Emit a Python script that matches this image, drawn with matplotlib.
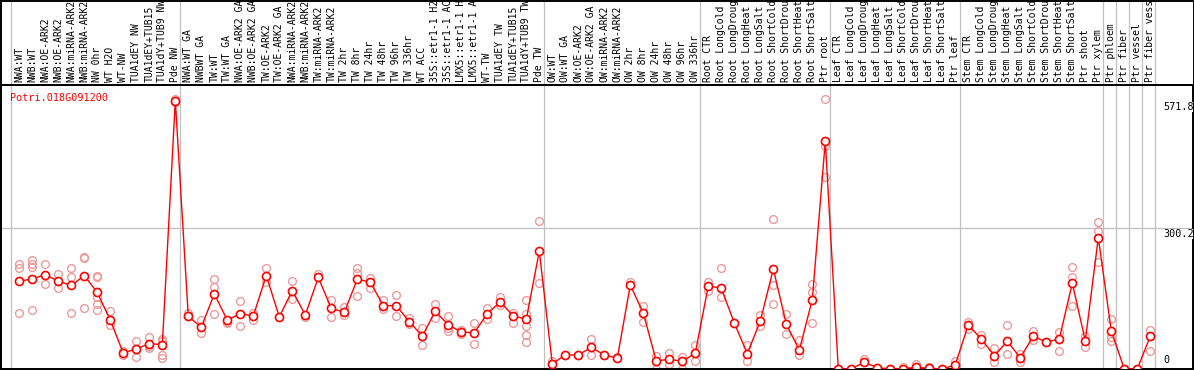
import matplotlib
matplotlib.use("Agg")
import matplotlib.pyplot as plt
import matplotlib.transforms as mtransforms
import numpy as np

gene = "Potri.018G091200"

labels = [
    "NWA:WT", "NWB:WT", "NWA:OE-ARK2", "NWB:OE-ARK2", "NWA:miRNA-ARK2", "NWB:miRNA-ARK2",
    "NW 0hr", "WT H2O", "WT-NW", "TUA1dEY NW", "TUA1dEY+TUB15", "TUA1dY+TUB9 NW", "Pde NW",
    "NWA:WT GA", "NWBWT GA", "TW:WT", "TW:WT GA", "NWA:OE-ARK2 GA", "NWB:OE-ARK2 GA",
    "TW:OE-ARK2", "TW:OE-ARK2 GA", "NWA:miRNA-ARK2", "NWB:miRNA-ARK2", "TW:miRNA-ARK2",
    "TW:miRNA-ARK2", "TW 2hr", "TW 8hr", "TW 24hr", "TW 48hr", "TW 96hr", "TW 336hr",
    "WT ACC", "35S::etr1-1 H2", "35S::etr1-1 AC", "LMX5::etr1-1 H", "LMX5::etr1-1 A",
    "WT-TW", "TUA1dEY TW", "TUA1dEY+TUB15", "TUA1dY+TUB9 TW", "Pde TW",
    "OW:WT", "OW:WT GA", "OW:OE-ARK2", "OW:OE-ARK2 GA", "OW:miRNA-ARK2", "OW:miRNA-ARK2",
    "OW 2hr", "OW 8hr", "OW 24hr", "OW 48hr", "OW 96hr", "OW 336hr",
    "Root CTR", "Root LongCold", "Root LongDroug", "Root LongHeat", "Root LongSalt",
    "Root ShortCold", "Root ShortDrou", "Root ShortHeat", "Root ShortSalt", "Ptr root",
    "Leaf CTR", "Leaf LongCold", "Leaf LongDroug", "Leaf LongHeat", "Leaf LongSalt",
    "Leaf ShortCold", "Leaf ShortDrou", "Leaf ShortHeat", "Leaf ShortSalt", "Ptr leaf",
    "Stem CTR", "Stem LongCold", "Stem LongDroug", "Stem LongHeat", "Stem LongSalt",
    "Stem ShortCold", "Stem ShortDrou", "Stem ShortHeat", "Stem ShortSalt", "Ptr shoot",
    "Ptr xylem", "Ptr phloem", "Ptr fiber", "Ptr vessel", "Ptr fiber vess",
]

means = [
    187, 192, 201, 187, 178, 199, 163, 104, 34, 43, 54, 52, 571.8,
    112, 89, 160, 104, 118, 113, 199, 111, 167, 115, 195, 129, 121, 191, 185,
    135, 135, 101, 70, 123, 94, 79, 77, 118, 143, 113, 106, 251,
    11, 30, 30, 46, 30, 23, 179, 119, 17, 21, 16, 34,
    177, 172, 98, 33, 102, 213, 96, 40, 148, 485,
    0, 1, 14, 3, 0, 1, 3.5, 1.5, 0, 9,
    94, 64, 28, 59, 24, 70, 57, 64, 183, 60, 280,
    81, 0, 0, 70,
]

replicates = [
    [224, 215, 120], [232, 223, 217, 125], [223, 182], [202, 172], [215, 197, 120],
    [239, 236, 131], [199, 196, 153, 138, 125], [123, 94], [38, 30], [59, 25],
    [69, 49, 44], [63, 60, 30, 23], [575, 568],
    [120, 112], [104, 76], [192, 175, 118], [101, 98], [145, 91], [119, 104],
    [216, 186], [110], [187, 150], [110], [203], [148, 110], [133, 115],
    [215, 204, 155], [194, 172], [148, 127], [157, 113], [109, 95], [87, 52],
    [138, 108], [113, 88, 81], [83, 74], [98, 53], [130, 106], [153, 136],
    [120, 99], [147, 118, 92, 72, 57], [315, 184],
    [18], [30], [30], [64, 30], [30], [26], [186], [134, 101], [28, 0],
    [35, 11], [26, 0], [51, 16],
    [186, 166], [216, 153], [99], [52, 16], [115, 91], [319, 178, 138],
    [117, 74], [62, 29], [182, 163, 99], [575, 476, 408],
    [0], [1], [21], [3], [0], [4], [10], [4.5], [0], [17],
    [101, 86], [72, 54], [45, 14], [94, 31], [31, 14], [80, 61], [57],
    [79, 39], [218, 195, 134], [70, 46], [314, 295, 229],
    [106, 68, 59], [0], [0], [84, 38],
]

group_starts = [0, 13, 41, 53, 63, 73, 84, 85, 86, 87, 88]
axis_labels = ["571.8", "300.2", "0"]
axis_values = [571.8, 300.2, 0]

W, H = 1194, 370
fig = plt.figure(figsize=(W / 100, H / 100), dpi=100)
fig.patch.set_facecolor("white")

# plot area in pixels
left_px, right_px, top_px, bottom_px = 1, 1193, 85, 369
ax = fig.add_axes([left_px / W, (H - bottom_px) / H,
                   (right_px - left_px) / W, (bottom_px - top_px) / H])
x = np.arange(len(means))
# pixel x = 19.3 + 13 * i
ax.set_xlim((left_px - 19.3) / 13, (right_px - 19.3) / 13)
ax.set_ylim(0, 605)
ax.set_xticks([])
ax.set_yticks([])
for s in ax.spines.values():
    s.set_linewidth(1.4)
    s.set_color("black")

axh = (bottom_px - top_px)
ymax_fig = (bottom_px) / axh  # extend to top of figure

for g in group_starts:
    ax.axvline(g - 0.64, ymin=0, ymax=ymax_fig, color="#c0c0c0", lw=0.9,
               clip_on=False, zorder=0.5)

ax.axhline(300.2, color="#c0c0c0", lw=0.9, zorder=0.5)

# replicate points
rx, ry = [], []
for i, reps in enumerate(replicates):
    for r in reps:
        rx.append(i)
        ry.append(r)
ax.plot(rx, ry, linestyle="none", marker="o", markersize=5.6, markerfacecolor="none",
        markeredgecolor="#eb9c9c", markeredgewidth=1.0, zorder=2)

ax.plot(x, means, color="red", lw=1.0, zorder=3)
ax.plot(x, means, linestyle="none", marker="o", markersize=5.8, markerfacecolor="white",
        markeredgecolor="red", markeredgewidth=1.2, zorder=4)

mono = "DejaVu Sans Mono"
ax.text(9 / (right_px - left_px), 1 - 8 / axh, gene, transform=ax.transAxes,
        color="red", fontsize=7.3, family=mono, ha="left", va="top")

# column labels in the header band
trans = mtransforms.blended_transform_factory(ax.transData, ax.transAxes)
for i, lab in enumerate(labels):
    ax.text(i, 1 + 3 / axh, lab, transform=trans, rotation=90, ha="center", va="bottom",
            fontsize=7, family=mono, color="black", clip_on=False)

# value labels on the right
xr = (1163 - 19.3) / 13
for lab, v in zip(axis_labels, axis_values):
    if v == 0:
        ax.text(xr, v + 9, lab, ha="left", va="bottom", fontsize=7.3,
                family=mono, color="black")
    else:
        ax.text(xr, v - 3, lab, ha="left", va="top", fontsize=7.3, family=mono,
                color="black", bbox=dict(facecolor="white", edgecolor="none", pad=0))

# header band border and separator
fig.add_artist(plt.Line2D([0, 1], [(H - top_px) / H] * 2, color="black", lw=1.4,
                          transform=fig.transFigure))
fig.add_artist(plt.Rectangle((0.5 / W, 0), 1 - 1 / W, 1 - 0.5 / H, fill=False,
                             edgecolor="black", lw=1.4, transform=fig.transFigure))

fig.savefig("out.png", dpi=100, facecolor="white")
